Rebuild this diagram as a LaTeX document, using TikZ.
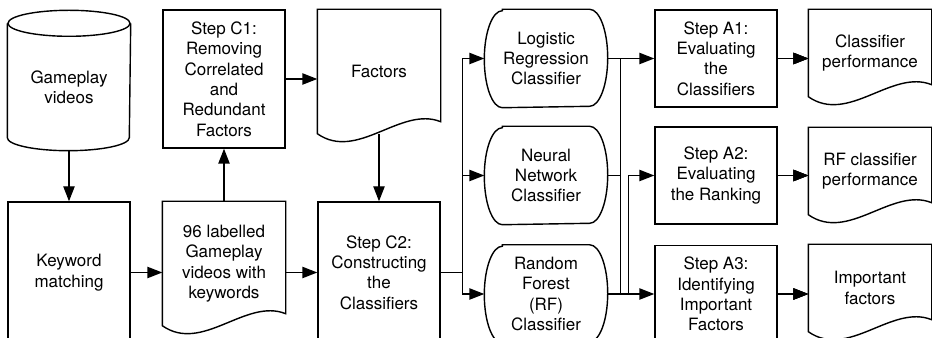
\documentclass[tikz,border=0pt]{standalone}
\usepackage{fontspec}
\setmainfont{TeX Gyre Heros}
\usetikzlibrary{arrows.meta, calc}
\def\pu{0.3mm}
\tikzset{
  every picture/.style={line width=1.2pt},
  box/.style={draw, align=center, inner sep=2pt, minimum width=122*\pu, minimum height=#1*\pu},
  box/.default=97,
  plain/.style={align=center, inner sep=2pt, minimum width=122*\pu, minimum height=#1*\pu},
  plain/.default=97,
  arrow/.style={-{Triangle[length=4.5mm, width=3.4mm]}},
}
% document outline: flat top, wavy bottom
\newcommand{\docoutline}[1]{%
  \draw (#1.south west) -- (#1.north west) -- (#1.north east) -- ($(#1.south east)+(0,12)$)
    .. controls +(-40,16) and +(40,-28) .. (#1.south west) -- cycle;}
% classifier outline: flat top and bottom, bulging sides
\newcommand{\clsoutline}[1]{%
  \draw ($(#1.north west)+(18,0)$) -- ($(#1.north east)+(-18,0)$)
    arc[start angle=90, end angle=-90, x radius=18*\pu, y radius=48.5*\pu]
    -- ($(#1.south west)+(18,0)$)
    arc[start angle=270, end angle=90, x radius=18*\pu, y radius=48.5*\pu] -- cycle;}

\begin{document}
\begin{tikzpicture}[x=\pu, y=\pu, every node/.append style={font=\fontsize{14.5}{17.4}\selectfont}]
  \useasboundingbox (0,0) rectangle (932,338);
  \clip (0,0) rectangle (932,338);
  % ---------- data preparation
  \node[plain=126] (vid) at (69,251) {Gameplay\\videos};
  \draw (vid.north west) -- ($(vid.south west)+(0,13)$)
    arc[start angle=180, end angle=360, x radius=61*\pu, y radius=13*\pu] -- (vid.north east);
  \draw (vid.north) ellipse [x radius=61*\pu, y radius=13*\pu];
  \node[box=141] (kw) at (69,65.5) {Keyword\\matching};
  \node[plain=123] (lab) at (224,74.5) {96 labelled\\Gameplay\\videos with\\keywords};
  \docoutline{lab}
  \node[box=138] (c1) at (224,259) {Step C1:\\Removing\\Correlated\\and\\Redundant\\Factors};
  \node[plain=123] (fac) at (379,266.5) {Factors};
  \docoutline{fac}
  \node[box=141] (c2) at (379,65.5) {Step C2:\\Constructing\\the\\Classifiers};
  \draw[arrow] (vid.south) -- (kw.north);
  \draw[arrow] (kw.east) -- (kw.east -| lab.west);
  \draw[arrow] (lab.north) -- (c1.south);
  \draw[arrow] (c1.east) -- (c1.east -| fac.west);
  \draw[arrow] (fac.south) -- (c2.north);
  \draw[arrow] (lab.east |- c2.west) -- (c2.west);
  % ---------- classifiers
  \node[plain] (lr) at (546,279.5) {Logistic\\Regression\\Classifier};
  \node[plain] (nn) at (546,162.5) {Neural\\Network\\Classifier};
  \node[plain] (rf) at (546,44) {Random\\Forest\\(RF)\\Classifier};
  \foreach \c in {lr, nn, rf} \clsoutline{\c}
  \coordinate (busl) at ($(c2.east)+(22,0)$);
  \draw (c2.east) -- (busl);
  \foreach \c in {lr, nn, rf} \draw[arrow] (busl) |- (\c.west);
  % ---------- analysis
  \node[box] (a1) at (716,279.5) {Step A1:\\Evaluating\\the\\Classifiers};
  \node[box] (a2) at (716,162.5) {Step A2:\\Evaluating\\the Ranking};
  \node[box] (a3) at (716,44) {Step A3:\\Identifying\\Important\\Factors};
  \coordinate (busr) at ($(lr.east)+(13,0)$);
  \coordinate (busa) at ($(rf.east)+(21,0)$);
  \foreach \c in {lr, nn, rf} \draw (\c.east) -- (\c.east -| busr);
  \draw (busr) -- (busr |- rf.east);
  \draw[arrow] (busr) -- (a1.west);
  \draw[arrow] (rf.east) -- (a3.west);
  \draw[arrow] (busa) |- (a2.west);
  % ---------- results
  \node[plain=86] (d1) at (870,285) {Classifier\\performance};
  \node[plain=86] (d2) at (870,167) {RF classifier\\performance};
  \node[plain=86] (d3) at (870,50) {Important\\factors};
  \foreach \d in {d1, d2, d3} \docoutline{\d}
  \foreach \a/\d in {a1/d1, a2/d2, a3/d3} \draw[arrow] (\a.east) -- (\a.east -| \d.west);
\end{tikzpicture}
\end{document}
